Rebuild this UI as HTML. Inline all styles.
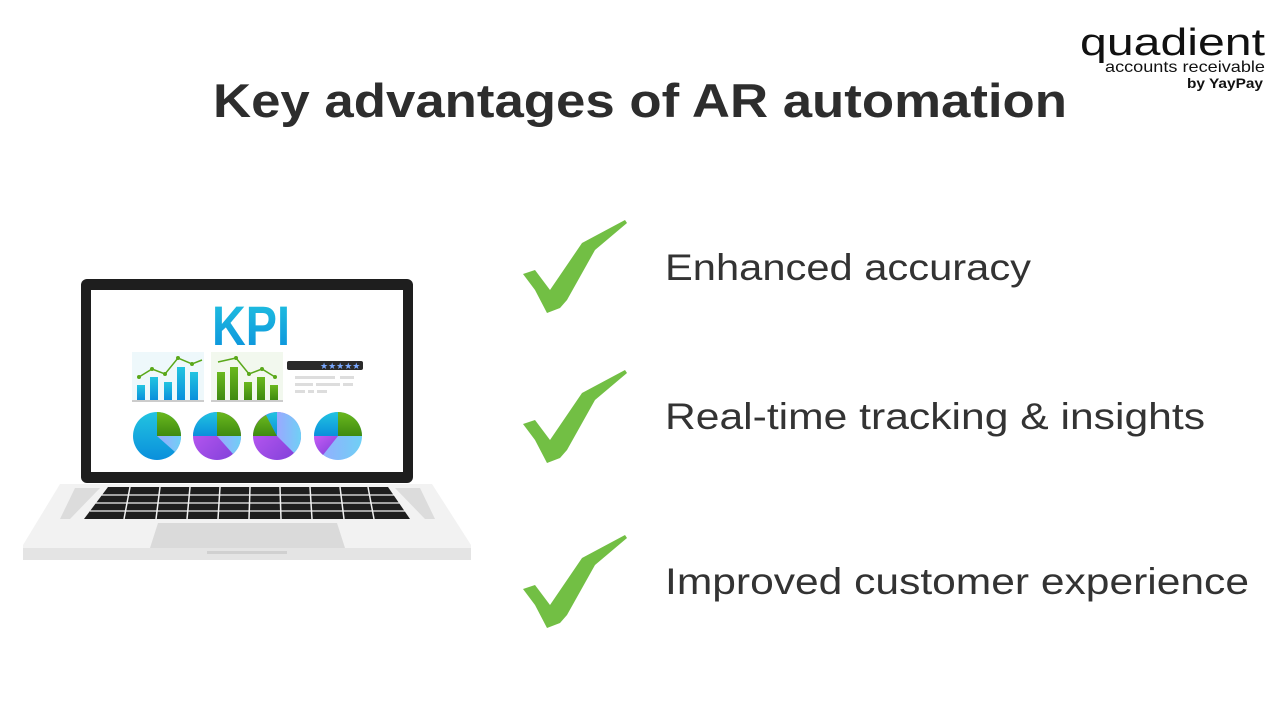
<!DOCTYPE html>
<html><head><meta charset="utf-8"><style>
html,body{margin:0;padding:0;background:#fff;}
svg{display:block}
text{font-family:"Liberation Sans",sans-serif}
</style></head><body>
<svg width="1280" height="720" viewBox="0 0 1280 720" xmlns="http://www.w3.org/2000/svg">
<defs>
<linearGradient id="bl" x1="0" y1="0" x2="0" y2="1"><stop offset="0" stop-color="#22c4e0"/><stop offset="1" stop-color="#0a8fdc"/></linearGradient>
<linearGradient id="gr" x1="0" y1="0" x2="0" y2="1"><stop offset="0" stop-color="#6ab81e"/><stop offset="1" stop-color="#3f8a10"/></linearGradient>
<linearGradient id="pu" x1="0" y1="0" x2="1" y2="1"><stop offset="0" stop-color="#c45cf5"/><stop offset="1" stop-color="#7d3fd8"/></linearGradient>
<linearGradient id="lb" x1="0" y1="0" x2="1" y2="0"><stop offset="0" stop-color="#9aa8ff"/><stop offset="1" stop-color="#6fd0f5"/></linearGradient>
</defs>
<!-- title -->
<text x="640" y="117" text-anchor="middle" font-size="47" font-weight="bold" fill="#2d2d2d" textLength="854" lengthAdjust="spacingAndGlyphs">Key advantages of AR automation</text>
<!-- logo -->
<text x="1080" y="55" font-size="38" fill="#111" textLength="185" lengthAdjust="spacingAndGlyphs">quadient</text>
<text x="1105" y="72" font-size="16" fill="#111" textLength="160" lengthAdjust="spacingAndGlyphs">accounts receivable</text>
<text x="1263" y="88" text-anchor="end" font-size="14" font-weight="bold" fill="#111" textLength="76" lengthAdjust="spacingAndGlyphs">by YayPay</text>
<!-- laptop base -->
<path d="M60 484 L432 484 L471 545 L471 560 L23 560 L23 545 Z" fill="#f2f2f2"/>
<rect x="23" y="548" width="448" height="12" fill="#e4e4e4"/>
<path d="M75 488 L100 488 L70 519 L60 519 Z" fill="#dcdcdc"/>
<path d="M395 488 L420 488 L435 519 L425 519 Z" fill="#dcdcdc"/>
<path d="M108 487 L388 487 L410 519 L84 519 Z" fill="#1e1e1e"/>
<g stroke="#f2f2f2" stroke-width="1.3">
<line x1="100" y1="495" x2="395" y2="495"/><line x1="95" y1="503" x2="400" y2="503"/><line x1="90" y1="511" x2="405" y2="511"/>
</g>
<g stroke="#f2f2f2" stroke-width="1.5">
<line x1="130" y1="487" x2="124" y2="519"/><line x1="160" y1="487" x2="156" y2="519"/><line x1="190" y1="487" x2="187" y2="519"/><line x1="220" y1="487" x2="218" y2="519"/><line x1="250" y1="487" x2="249" y2="519"/><line x1="280" y1="487" x2="281" y2="519"/><line x1="310" y1="487" x2="312" y2="519"/><line x1="340" y1="487" x2="344" y2="519"/><line x1="368" y1="487" x2="374" y2="519"/>
</g>
<path d="M158 523 L337 523 L345 548 L150 548 Z" fill="#dadada"/>
<rect x="207" y="551" width="80" height="3" fill="#d0d0d0"/>
<!-- screen -->
<rect x="81" y="279" width="332" height="204" rx="6" fill="#1e1e1e"/>
<rect x="91" y="290" width="312" height="182" fill="#fff"/>
<text x="251" y="345" text-anchor="middle" font-size="56" fill="url(#bl)" font-weight="bold" textLength="78" lengthAdjust="spacingAndGlyphs">KPI</text>
<!-- bar charts -->
<rect x="132" y="352" width="72" height="48" fill="#eef8fb"/>
<rect x="211" y="352" width="72" height="48" fill="#f2f8ee"/>
<g fill="url(#bl)"><rect x="137" y="385" width="8" height="15"/><rect x="150" y="377" width="8" height="23"/><rect x="164" y="382" width="8" height="18"/><rect x="177" y="367" width="8" height="33"/><rect x="190" y="372" width="8" height="28"/></g>
<g fill="url(#gr)"><rect x="217" y="372" width="8" height="28"/><rect x="230" y="367" width="8" height="33"/><rect x="244" y="382" width="8" height="18"/><rect x="257" y="377" width="8" height="23"/><rect x="270" y="385" width="8" height="15"/></g>
<polyline points="139,377 152,369 165,374 178,358 192,364 202,360" fill="none" stroke="#5aa81a" stroke-width="1.5"/>
<polyline points="218,362 236,358 249,374 262,369 275,377" fill="none" stroke="#5aa81a" stroke-width="1.5"/>
<g fill="#5aa81a"><circle cx="139" cy="377" r="2"/><circle cx="152" cy="369" r="2"/><circle cx="165" cy="374" r="2"/><circle cx="178" cy="358" r="2"/><circle cx="192" cy="364" r="2"/><circle cx="236" cy="358" r="2"/><circle cx="249" cy="374" r="2"/><circle cx="262" cy="369" r="2"/><circle cx="275" cy="377" r="2"/></g>
<line x1="132" y1="401" x2="204" y2="401" stroke="#999"/><line x1="211" y1="401" x2="283" y2="401" stroke="#999"/>
<rect x="287" y="361" width="76" height="9" rx="2" fill="#2a2a2a"/>
<text x="320" y="369" font-size="9" fill="#7aa8ff">★★★★★</text>
<g fill="#ddd"><rect x="295" y="376" width="40" height="3"/><rect x="340" y="376" width="14" height="3"/><rect x="295" y="383" width="18" height="3"/><rect x="316" y="383" width="24" height="3"/><rect x="343" y="383" width="10" height="3"/><rect x="295" y="390" width="10" height="3"/><rect x="308" y="390" width="6" height="3"/><rect x="317" y="390" width="10" height="3"/></g>
<!-- pies -->
<g>
<circle cx="157" cy="436" r="24" fill="url(#bl)"/>
<path d="M157 436 L157 412 A24 24 0 0 1 181 436 Z" fill="url(#gr)"/>
<path d="M157 436 L181 436 A24 24 0 0 1 175 452 Z" fill="url(#lb)"/>
<circle cx="217" cy="436" r="24" fill="url(#pu)"/>
<path d="M217 436 L193 436 A24 24 0 0 1 217 412 Z" fill="url(#bl)"/>
<path d="M217 436 L217 412 A24 24 0 0 1 241 436 Z" fill="url(#gr)"/>
<path d="M217 436 L241 436 A24 24 0 0 1 233 454 Z" fill="url(#lb)"/>
<circle cx="277" cy="436" r="24" fill="url(#pu)"/>
<path d="M277 436 L253 436 A24 24 0 0 1 266 415 Z" fill="url(#gr)"/>
<path d="M277 436 L266 415 A24 24 0 0 1 277 412 Z" fill="url(#bl)"/>
<path d="M277 436 L277 412 A24 24 0 0 1 294 453 Z" fill="url(#lb)"/>
<circle cx="338" cy="436" r="24" fill="url(#lb)"/>
<path d="M338 436 L314 436 A24 24 0 0 1 338 412 Z" fill="url(#bl)"/>
<path d="M338 436 L338 412 A24 24 0 0 1 362 436 Z" fill="url(#gr)"/>
<path d="M338 436 L314 436 A24 24 0 0 0 323 455 Z" fill="url(#pu)"/>
</g>
<!-- checks -->
<g fill="#72bf44">
<polygon transform="translate(515,210)" points="8,64 20,60 35,80 67,33 110,10 112,13 80,40 52,90 45,98 32,103 20,80"/>
<polygon transform="translate(515,360)" points="8,64 20,60 35,80 67,33 110,10 112,13 80,40 52,90 45,98 32,103 20,80"/>
<polygon transform="translate(515,525)" points="8,64 20,60 35,80 67,33 110,10 112,13 80,40 52,90 45,98 32,103 20,80"/>
</g>
<g font-size="37" fill="#333">
<text x="665" y="280" textLength="366" lengthAdjust="spacingAndGlyphs">Enhanced accuracy</text>
<text x="665" y="429" textLength="540" lengthAdjust="spacingAndGlyphs">Real-time tracking &amp; insights</text>
<text x="665" y="594" textLength="584" lengthAdjust="spacingAndGlyphs">Improved customer experience</text>
</g>
</svg>
</body></html>
